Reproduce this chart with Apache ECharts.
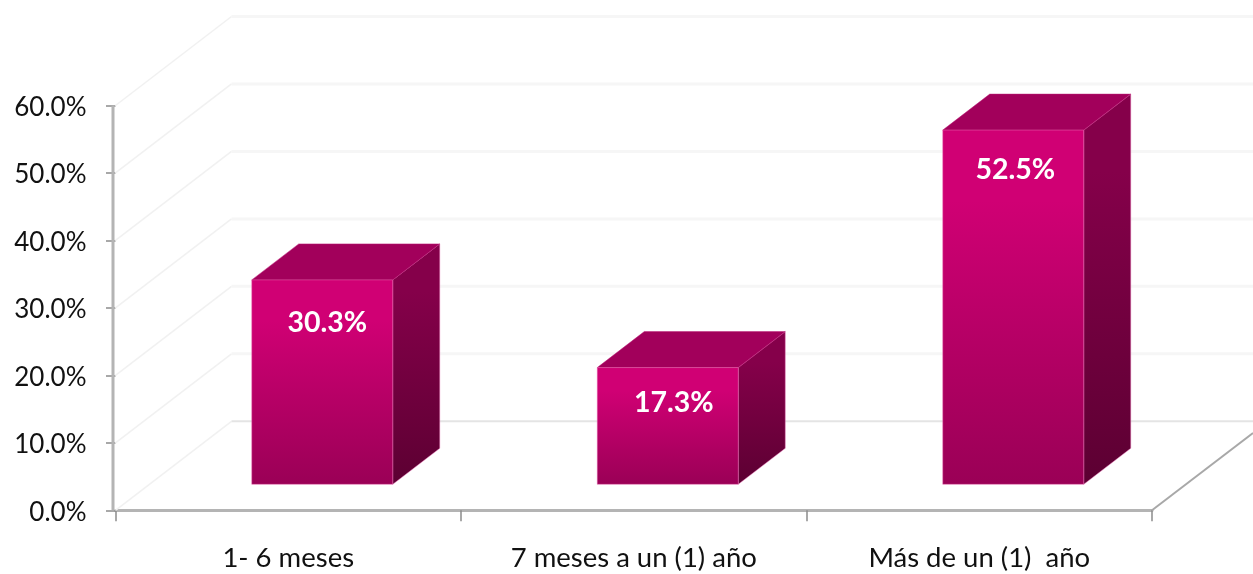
<!DOCTYPE html>
<html><head><meta charset="utf-8">
<style>html,body{margin:0;padding:0;background:#fff}#c{width:1253px;height:574px}</style>
<script src="https://cdn.jsdelivr.net/npm/echarts@6/dist/echarts.min.js"></script>
</head><body><div id="c"></div>
<script>
const categories = ['1- 6 meses', '7 meses a un (1) año', 'Más de un (1)  año'];
const values = [30.3, 17.3, 52.5];
const yTicks = [0, 10, 20, 30, 40, 50, 60];
const labelDrops = [43, 35, 40];
const labelShifts = [5, 6, 2];

const FONT = 'Lato, "Open Sans", sans-serif';
const WALL_DX = 116, WALL_DY = -89;
const BAR_DX = 47, BAR_DY = -36, BAR_W = 141, BAR_SHIFT = 34, BAR_LIFT = 26;

const grad = (a, b) => ({type:'linear', x:0, y:0, x2:0, y2:1, colorStops:[{offset:0,color:a},{offset:0.2,color:a},{offset:1,color:b}]});

function renderFrame(params, api) {
  const v = api.value(0);
  const band = api.size([1, 0])[0];
  const p = api.coord([0, v]);
  const left = p[0] - band / 2, y = p[1];
  const gy = y + WALL_DY;
  const isFloor = v === 0;
  const wallStyle = {stroke: '#f1f1f1', lineWidth: 1.5, fill: 'none'};
  const backStyle = {stroke: isFloor ? '#e4e4e4' : '#f6f6f6', lineWidth: isFloor ? 2 : 3, fill: 'none'};
  const kids = [
    {type:'line', shape:{x1:left, y1:y, x2:left+WALL_DX, y2:gy}, style:wallStyle},
    {type:'line', shape:{x1:left+WALL_DX, y1:gy, x2:1253, y2:gy}, style:backStyle}
  ];
  if (isFloor) {
    const right = left + band * categories.length;
    kids.push({type:'line', shape:{x1:right, y1:y, x2:1253, y2:433}, style:{stroke:'#a8a8a8', lineWidth:2, fill:'none'}});
    const top = api.coord([0, yTicks[yTicks.length-1]])[1];
    kids.push({type:'line', shape:{x1:left-2.5, y1:top, x2:left-2.5, y2:y}, style:{stroke:'#b4b4b4', lineWidth:3, fill:'none'}});
  }
  return {type:'group', children:kids};
}

function renderBar(params, api) {
  const i = api.value(0), v = api.value(1);
  const base = api.coord([i, 0]), head = api.coord([i, v]);
  const x0 = base[0] + BAR_SHIFT - BAR_W / 2, x1 = x0 + BAR_W;
  const yb = base[1] - BAR_LIFT, yt = head[1] - BAR_LIFT;
  const edge = 'rgba(235,110,180,0.45)';
  return {type:'group', children:[
    {type:'polygon', shape:{points:[[x1,yt],[x1+BAR_DX,yt+BAR_DY],[x1+BAR_DX,yb+BAR_DY],[x1,yb]]},
      style:{fill:grad('#85004a','#5c0032'), stroke:edge, lineWidth:1}},
    {type:'polygon', shape:{points:[[x0,yt],[x0+BAR_DX,yt+BAR_DY],[x1+BAR_DX,yt+BAR_DY],[x1,yt]]},
      style:{fill:'#a2005b', stroke:'rgba(190,30,120,0.5)', lineWidth:1}},
    {type:'rect', shape:{x:x0, y:yt, width:BAR_W, height:yb-yt},
      style:{fill:grad('#d00074','#9a0056'), stroke:edge, lineWidth:1}},
    {type:'text', style:{x:x0+BAR_W/2+labelShifts[i], y:yt+labelDrops[i], text:v.toFixed(1)+'%',
      fill:'#fff', font:'bold 28.5px '+FONT, align:'center', verticalAlign:'middle'}}
  ]};
}

const chart = echarts.init(document.getElementById('c'), null, {renderer:'canvas', width:1253, height:574});
chart.setOption({
  animation:false,
  backgroundColor:'#fff',
  grid:{left:115.5, right:101, top:105.5, bottom:63.7},
  xAxis:{type:'category', data:categories,
    axisLine:{lineStyle:{color:'#b4b4b4', width:3}},
    axisTick:{show:true, length:11, alignWithLabel:false, lineStyle:{color:'#8c8c8c', width:1.5}},
    axisLabel:{color:'#111', fontFamily:FONT, fontSize:27.5, margin:34, interval:0},
    splitLine:{show:false}},
  yAxis:{type:'value', min:0, max:60, interval:10,
    axisLine:{show:false},
    axisTick:{show:true, length:9.5, lineStyle:{color:'#8c8c8c', width:1.5}},
    axisLabel:{color:'#111', fontFamily:FONT, fontSize:26, margin:29,
      formatter:v => '{a|'+v.toFixed(1)+'%}',
      rich:{a:{color:'#111', fontFamily:FONT, fontSize:26, padding:[4,0,0,0]}}},
    splitLine:{show:false}},
  series:[
    {type:'custom', renderItem:renderFrame, data:yTicks.map(t=>[t]), encode:{y:0}, silent:true, z:1},
    {type:'custom', renderItem:renderBar, data:values.map((v,i)=>[i,v]), encode:{x:0,y:1}, silent:true, z:3}
  ]
});
</script></body></html>
